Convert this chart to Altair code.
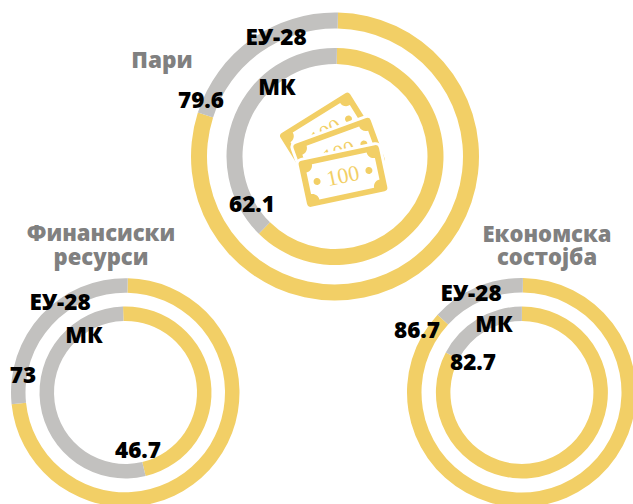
import altair as alt
import pandas as pd

titles = [["Пари"], ["Финансиски", "ресурси"], ["Економска", "состојба"]]
eu28 = [79.6, 73, 86.7]
mk = [62.1, 46.7, 82.7]
series_names = ["ЕУ-28", "МК"]

GOLD = "#F2CF66"
GREY = "#C2C1BF"
TITLE = "#808080"
FONT = "Open Sans"
OX, OY = 8, 8


def px(x):
    return x - OX


def py(y):
    return y - OY


theta_scale = alt.Scale(domain=[0, 100], range=[0, 6.283185307])


def ring(value, cx, cy, r, thick=14.5, turn=0.0):
    df = pd.DataFrame({
        "start": [turn, turn + value],
        "end": [turn + value, turn + 100],
        "part": ["done", "rest"],
    })
    return alt.Chart(df).mark_arc(radius=r, radius2=r - thick, stroke=None).encode(
        x=alt.value(px(cx)),
        y=alt.value(py(cy)),
        theta=alt.Theta("start:Q", scale=theta_scale),
        theta2="end:Q",
        color=alt.Color("part:N", scale=alt.Scale(domain=["done", "rest"], range=[GOLD, GREY]), legend=None),
    )


def label(txt, x, y, color="black", size=22.5, font=FONT, angle=None, weight=800):
    kw = dict(align="center", baseline="middle", font=font, fontSize=size, fontWeight=weight, color=color)
    if angle is not None:
        kw["angle"] = angle
    return alt.Chart(pd.DataFrame({"t": [str(txt)]})).mark_text(**kw).encode(
        x=alt.value(px(x)), y=alt.value(py(y)), text="t:N"
    )


OUTER = "M-37.5,-25H37.5A5,5 0 0 1 42.5,-20V20A5,5 0 0 1 37.5,25H-37.5A5,5 0 0 1 -42.5,20V-20A5,5 0 0 1 -37.5,-25Z"
INNER = "M-28,-18H28A7,7 0 0 0 35,-11V11A7,7 0 0 0 28,18H-28A7,7 0 0 0 -35,11V-11A7,7 0 0 0 -28,-18Z"
DOTS = "M-30,0A3.5,3.5 0 1 0 -23,0A3.5,3.5 0 1 0 -30,0ZM23,0A3.5,3.5 0 1 0 30,0A3.5,3.5 0 1 0 23,0Z"


def shape(path, x, y, angle, fill, stroke=None):
    kw = dict(shape=path, size=4, filled=True, fill=fill, opacity=1, angle=angle)
    if stroke:
        kw.update(stroke=stroke, strokeWidth=3)
    else:
        kw.update(strokeWidth=0)
    return alt.Chart(pd.DataFrame({"a": [0]})).mark_point(**kw).encode(x=alt.value(px(x)), y=alt.value(py(y)))


def bill(x, y, angle):
    return [
        shape(OUTER, x, y, angle, GOLD, "white"),
        shape(INNER, x, y, angle, "white"),
        shape(DOTS, x, y, angle, GOLD),
        label("100", x, y, GOLD, 22, "Liberation Serif", angle, "normal"),
    ]


layers = [
    ring(eu28[0], 335, 156.5, 144, 16, 0.33), ring(mk[0], 335, 156.5, 108.5, 16, 0.29),
    ring(eu28[1], 125.25, 392.5, 114.25, 14.5, 0.35), ring(mk[1], 125.5, 392.5, 86, 14.5, -0.46),
    ring(eu28[2], 521.5, 392.5, 114.5, 14.5, 0.2), ring(mk[2], 521.9, 392.5, 86, 14.5, 0.0),
]
layers += bill(326, 133, 328) + bill(339, 153, 340) + bill(343, 176, 348)
layers += [
    label(titles[0][0], 162, 61, TITLE, 22.6),
    label(titles[1][0], 101, 234, TITLE, 22),
    label(titles[1][1], 101, 258, TITLE, 22),
    label(titles[2][0], 547, 235, TITLE, 22),
    label(titles[2][1], 547, 258, TITLE, 22),
    label(series_names[0], 276, 38),
    label(series_names[1], 277, 88),
    label(eu28[0], 201, 101),
    label(mk[0], 252, 205),
    label(series_names[0], 60, 303),
    label(series_names[1], 84, 336),
    label(eu28[1], 23, 376),
    label(mk[1], 138, 451),
    label(series_names[0], 471, 294),
    label(series_names[1], 494, 325),
    label(eu28[2], 417, 331),
    label(mk[2], 473, 363),
]

chart = alt.layer(*layers).properties(
    width=625, height=496, padding=0, autosize=alt.AutoSizeParams(type="none"), background="white",
).configure_view(stroke=None)

chart.save("out.html", embed_options={"renderer": "svg", "actions": False,
                                      "defaultStyle": "svg{flex:none !important;max-width:none !important;width:625px !important;overflow:visible !important} html{overflow:hidden} body,#vis,.vega-embed,.chart-wrapper{overflow:visible !important;width:625px !important}"})
